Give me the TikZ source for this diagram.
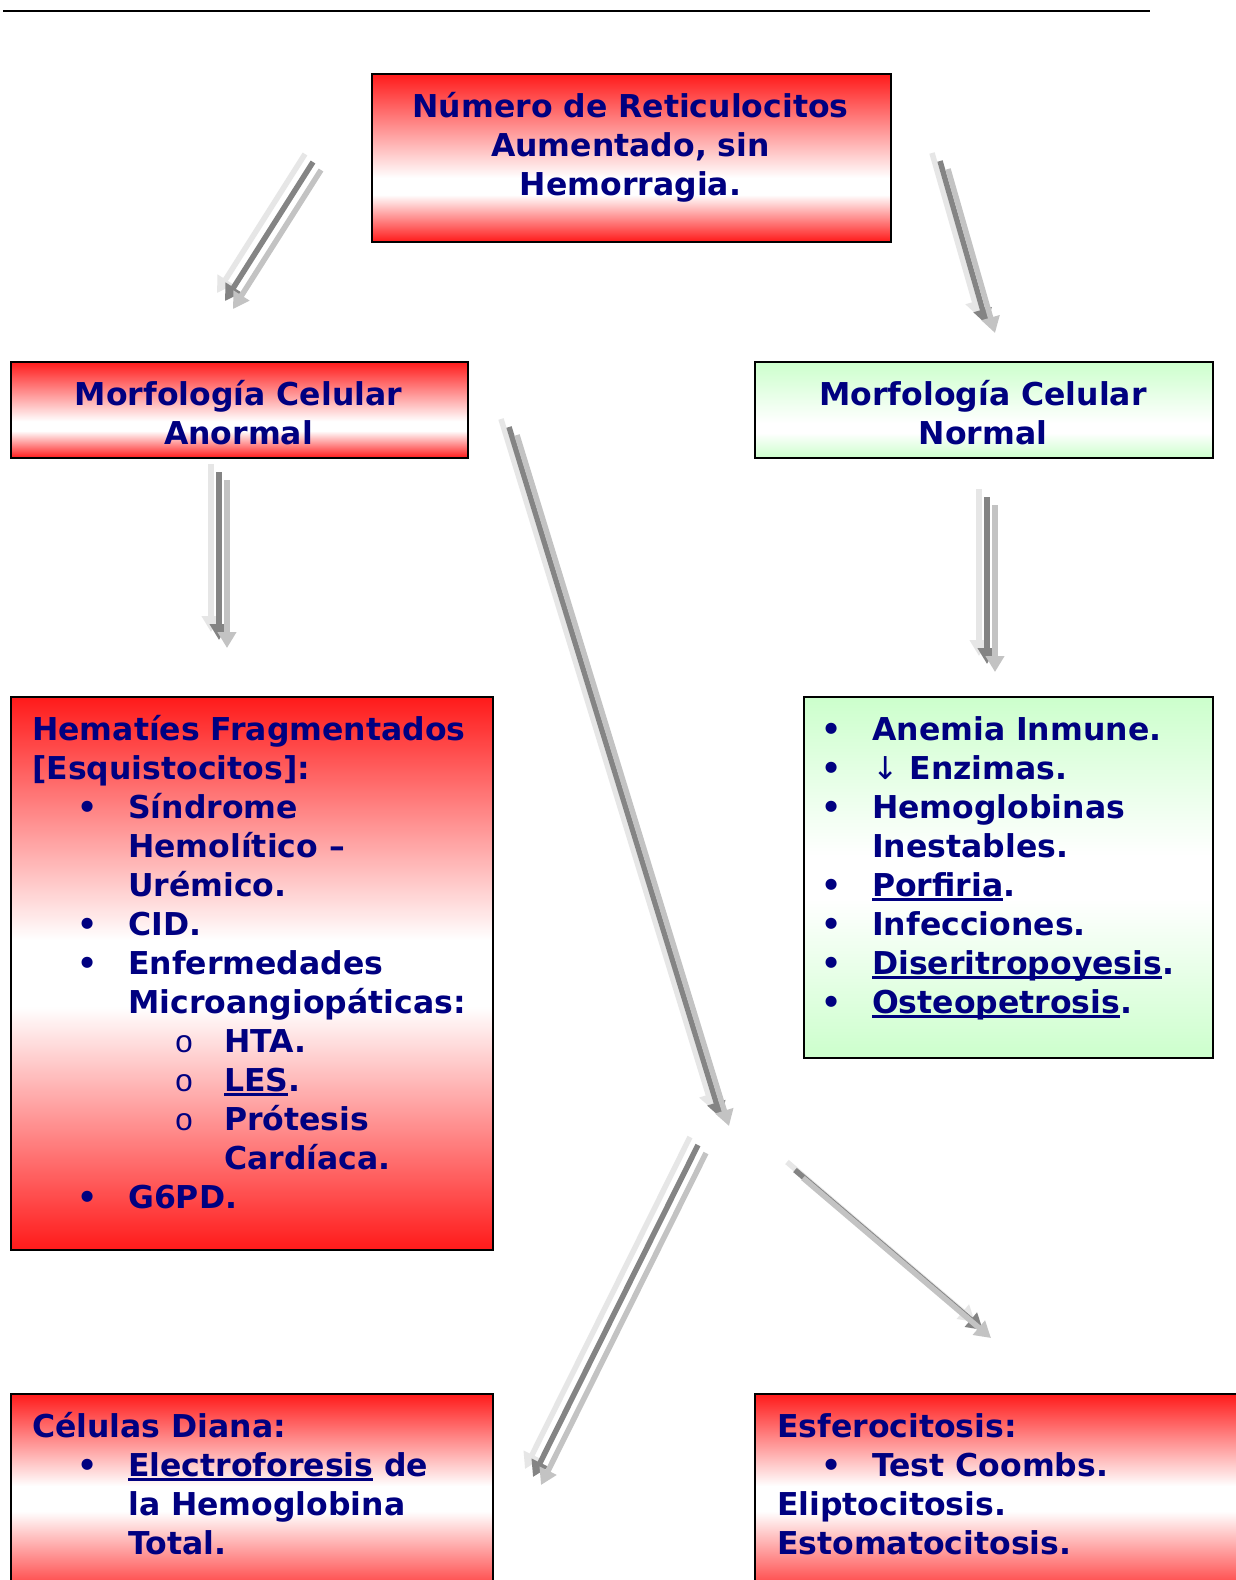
\documentclass[tikz,border=0pt]{standalone}
\usepackage{fontspec}
\setmainfont{DejaVu Sans}
\newfontfamily\monof{Liberation Mono}
\usetikzlibrary{arrows.meta}
\definecolor{navy}{HTML}{000080}
\definecolor{boxred}{HTML}{FF1A1A}
\definecolor{boxgreen}{HTML}{CCFFCC}
\definecolor{arLight}{HTML}{E6E6E6}
\definecolor{arDark}{HTML}{848484}
\definecolor{arMid}{HTML}{C3C3C3}
\pgfdeclareverticalshading{redfade}{100bp}{color(0bp)=(boxred); color(25bp)=(boxred); color(47bp)=(white); color(53bp)=(white); color(75bp)=(boxred); color(100bp)=(boxred)}
\pgfdeclareverticalshading{redlow}{100bp}{color(0bp)=(boxred); color(25bp)=(boxred); color(39bp)=(white); color(44bp)=(white); color(75bp)=(boxred); color(100bp)=(boxred)}
\pgfdeclareverticalshading{greenfade}{100bp}{color(0bp)=(boxgreen); color(25bp)=(boxgreen); color(47bp)=(white); color(53bp)=(white); color(75bp)=(boxgreen); color(100bp)=(boxgreen)}
\pgfdeclareverticalshading{greenlow}{100bp}{color(0bp)=(boxgreen); color(25bp)=(boxgreen); color(38bp)=(white); color(43bp)=(white); color(75bp)=(boxgreen); color(100bp)=(boxgreen)}
\newcommand\myul[1]{\leavevmode\setbox0\hbox{#1}\rlap{\rule[-4.5pt]{\wd0}{2.4pt}}\box0\relax}
\newcommand\triarrow[2]{%
  \draw[arw,arLight] ([shift={(-8,-8)}]#1) -- ([shift={(-8,-8)}]#2);
  \draw[arw,arDark] (#1) -- (#2);
  \draw[arw,arMid] ([shift={(8,8)}]#1) -- ([shift={(8,8)}]#2);}
\begin{document}
\begin{tikzpicture}[x=1pt,y=-1pt,
  boxbase/.style={draw=black, line width=1.5pt, rectangle, inner sep=0pt, anchor=north west},
  redbox/.style={boxbase, shading=redfade},
  redboxlow/.style={boxbase, shading=redlow},
  greenbox/.style={boxbase, shading=greenfade},
  greenboxlow/.style={boxbase, shading=greenlow},
  lbl/.style={font=\bfseries\fontsize{31.5}{39}\selectfont, text=navy, inner sep=0pt, anchor=base west},
  clbl/.style={lbl, anchor=base},
  bul/.style={lbl, anchor=base},
  sbul/.style={font=\monof\fontsize{31.5}{39}\selectfont, text=navy, inner sep=0pt, anchor=base},
  arw/.style={line width=5.5pt, -{Triangle[width=18pt,length=16pt]}}]
\useasboundingbox (0,0) rectangle (1235,1580);
\fill[white] (0,0) rectangle (1235,1580);
\draw[line width=2.8pt] (3,11) -- (1150,11);

% boxes
\node[redboxlow, minimum width=519, minimum height=168] (A) at (371,73) {};
\node[redboxlow, minimum width=457, minimum height=96] (B) at (10,361) {};
\node[greenboxlow, minimum width=458, minimum height=96] (C) at (754,361) {};
\node[redbox, minimum width=482, minimum height=553] (D) at (10,696) {};
\node[greenbox, minimum width=409, minimum height=361] (E) at (803,696) {};
\node[redbox, minimum width=482, minimum height=210] (F) at (10,1393) {};
\node[redbox, minimum width=486, minimum height=210] (G) at (754,1393) {};

% arrow end points
\coordinate (a1s) at (313,162); \coordinate (a1e) at (225,301);
\coordinate (a2s) at (940,161); \coordinate (a2e) at (987,325);
\coordinate (a3s) at (219,472); \coordinate (a3e) at (219,640);
\coordinate (a7s) at (987,497); \coordinate (a7e) at (987,664);
\coordinate (a4s) at (509,427); \coordinate (a4e) at (721,1118);
\coordinate (a5s) at (698,1145); \coordinate (a5e) at (533,1477);
\coordinate (a6s) at (795,1170); \coordinate (a6e) at (983,1330);
\triarrow{a1s}{a1e}
\triarrow{a2s}{a2e}
\triarrow{a3s}{a3e}
\triarrow{a7s}{a7e}
\triarrow{a4s}{a4e}
\triarrow{a5s}{a5e}
\triarrow{a6s}{a6e}

% box A
\node[clbl] (tA1) at (630.5,117) {Número de Reticulocitos};
\node[clbl] (tA2) at (630.5,156) {Aumentado, sin};
\node[clbl] (tA3) at (630.5,195) {Hemorragia.};
% box B
\node[clbl] (tB1) at (238.5,405) {Morfología Celular};
\node[clbl] (tB2) at (238.5,444) {Anormal};
% box C
\node[clbl] (tC1) at (983,405) {Morfología Celular};
\node[clbl] (tC2) at (983,444) {Normal};
% box D
\node[lbl] (tD1) at (32,740) {Hematíes Fragmentados};
\node[lbl] (tD2) at (32,779) {[Esquistocitos]:};
\node[bul] (bD1) at (88,818) {•};
\node[lbl] (tD3) at (128,818) {Síndrome};
\node[lbl] (tD4) at (128,857) {Hemolítico –};
\node[lbl] (tD5) at (128,896) {Urémico.};
\node[bul] (bD2) at (88,935) {•};
\node[lbl] (tD6) at (128,935) {CID.};
\node[bul] (bD3) at (88,974) {•};
\node[lbl] (tD7) at (128,974) {Enfermedades};
\node[lbl] (tD8) at (128,1013) {Microangiopáticas:};
\node[sbul] (sD1) at (184,1052) {o};
\node[lbl] (tD9) at (224,1052) {HTA.};
\node[sbul] (sD2) at (184,1091) {o};
\node[lbl] (tD10) at (224,1091) {\myul{LES}.};
\node[sbul] (sD3) at (184,1130) {o};
\node[lbl] (tD11) at (224,1130) {Prótesis};
\node[lbl] (tD12) at (224,1169) {Cardíaca.};
\node[bul] (bD4) at (88,1208) {•};
\node[lbl] (tD13) at (128,1208) {G6PD.};
% box E
\node[bul] (bE1) at (832,740) {•};
\node[lbl] (tE1) at (872,740) {Anemia Inmune.};
\node[bul] (bE2) at (832,779) {•};
\node[lbl] (tE2) at (872,779) {{\mdseries↓} Enzimas.};
\node[bul] (bE3) at (832,818) {•};
\node[lbl] (tE3) at (872,818) {Hemoglobinas};
\node[lbl] (tE4) at (872,857) {Inestables.};
\node[bul] (bE4) at (832,896) {•};
\node[lbl] (tE5) at (872,896) {\myul{Porfiria}.};
\node[bul] (bE5) at (832,935) {•};
\node[lbl] (tE6) at (872,935) {Infecciones.};
\node[bul] (bE6) at (832,974) {•};
\node[lbl] (tE7) at (872,974) {\myul{Diseritropoyesis}.};
\node[bul] (bE7) at (832,1013) {•};
\node[lbl] (tE8) at (872,1013) {\myul{Osteopetrosis}.};
% box F
\node[lbl] (tF1) at (32,1437) {Células Diana:};
\node[bul] (bF1) at (88,1476) {•};
\node[lbl] (tF2) at (128,1476) {\myul{Electroforesis} de};
\node[lbl] (tF3) at (128,1515) {la Hemoglobina};
\node[lbl] (tF4) at (128,1554) {Total.};
% box G
\node[lbl] (tG1) at (777,1437) {Esferocitosis:};
\node[bul] (bG1) at (832,1476) {•};
\node[lbl] (tG2) at (872,1476) {Test Coombs.};
\node[lbl] (tG3) at (777,1515) {Eliptocitosis.};
\node[lbl] (tG4) at (777,1554) {Estomatocitosis.};
\end{tikzpicture}
\end{document}
